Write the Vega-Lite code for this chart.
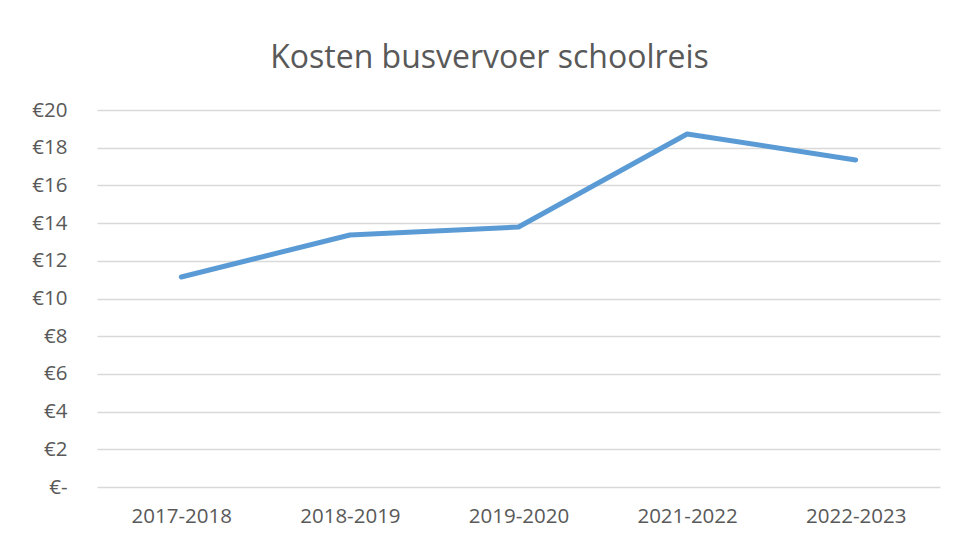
{
  "$schema": "https://vega.github.io/schema/vega-lite/v6.json",
  "width": 843,
  "height": 377,
  "autosize": "none",
  "padding": {"left": 97, "top": 110, "right": 14, "bottom": 54},
  "background": "white",
  "title": {
    "text": "Kosten busvervoer schoolreis",
    "font": "Open Sans",
    "fontSize": 32,
    "fontWeight": "normal",
    "color": "#595959",
    "anchor": "middle",
    "dx": -29,
    "offset": 25
  },
  "data": {
    "values": [
      {"jaar": "2017-2018", "kosten": 11.14},
      {"jaar": "2018-2019", "kosten": 13.37},
      {"jaar": "2019-2020", "kosten": 13.79},
      {"jaar": "2021-2022", "kosten": 18.73},
      {"jaar": "2022-2023", "kosten": 17.35}
    ]
  },
  "mark": {"type": "line", "color": "#5B9BD5", "strokeWidth": 5, "strokeCap": "round", "strokeJoin": "round"},
  "encoding": {
    "x": {
      "field": "jaar",
      "type": "ordinal",
      "sort": null,
      "scale": {"type": "point", "padding": 0.5},
      "axis": {
        "title": null,
        "labelAngle": 0,
        "labelFont": "Open Sans",
        "labelFontSize": 20.5,
        "labelColor": "#595959",
        "labelPadding": 19,
        "ticks": false,
        "domain": false,
        "grid": false
      }
    },
    "y": {
      "field": "kosten",
      "type": "quantitative",
      "scale": {"domain": [0, 20], "nice": false, "zero": true},
      "axis": {
        "title": null,
        "values": [0, 2, 4, 6, 8, 10, 12, 14, 16, 18, 20],
        "labelExpr": "datum.value == 0 ? '€-' : '€' + datum.value",
        "labelFont": "Open Sans",
        "labelFontSize": 20.5,
        "labelColor": "#595959",
        "labelPadding": 30,
        "ticks": false,
        "domain": false,
        "grid": true,
        "gridColor": "#D9D9D9",
        "gridWidth": 1.3
      }
    }
  },
  "config": {"view": {"stroke": null}}
}
